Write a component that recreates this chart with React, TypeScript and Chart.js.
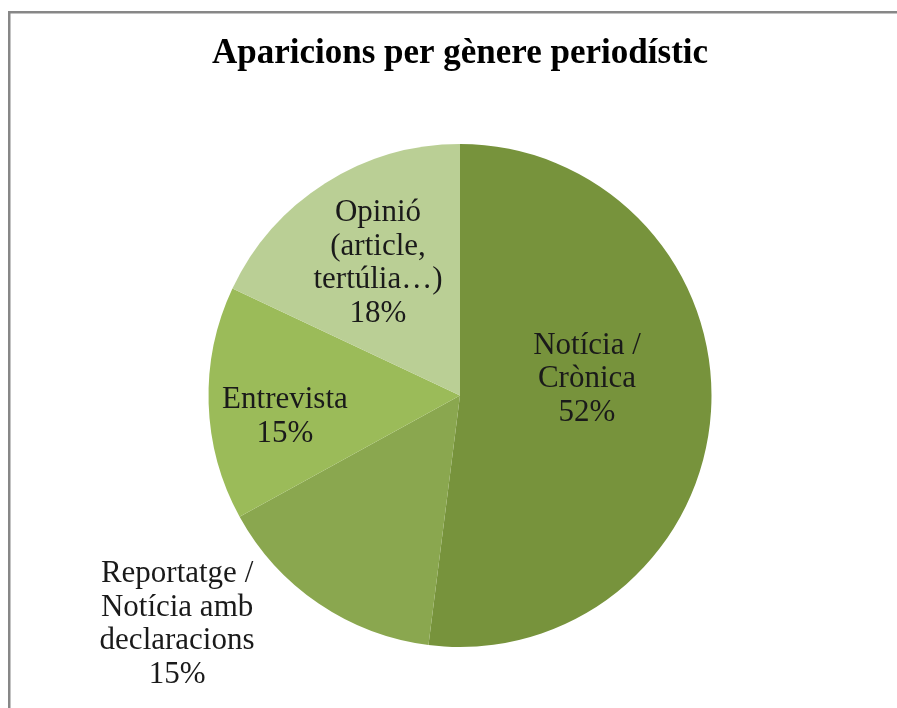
import React, { useEffect, useRef } from "react";
import { Chart, registerables } from "chart.js";

Chart.register(...registerables);

const TITLE = "Aparicions per gènere periodístic";
const CATEGORIES: string[][] = [
  ["Notícia /", "Crònica"],
  ["Reportatge /", "Notícia amb", "declaracions"],
  ["Entrevista"],
  ["Opinió", "(article,", "tertúlia…)"],
];
const VALUES = [52, 15, 15, 18];
const COLORS = ["#77933C", "#8AA74F", "#9BBB59", "#BACF95"];
// label placement relative to pie centre, in units of the radius
const LABEL_OFFSETS: [number, number][] = [
  [0.505, -0.065],
  [-1.125, 0.91],
  [-0.696, 0.085],
  [-0.326, -0.525],
];

const LABEL_FONT = "31px 'Liberation Serif', 'Times New Roman', serif";
const TITLE_FONT = "bold 35px 'Liberation Serif', 'Times New Roman', serif";
const LINE_H = 33.5;

const decorPlugin = {
  id: "decor",
  beforeDraw(chart: any) {
    const ctx = chart.ctx;
    ctx.save();
    ctx.fillStyle = "#ffffff";
    ctx.fillRect(0, 0, chart.width, chart.height);
    ctx.strokeStyle = "#878787";
    ctx.lineWidth = 2.5;
    ctx.strokeRect(9.25, 12.25, chart.width + 20, chart.height + 20);
    ctx.fillStyle = "#000000";
    ctx.font = TITLE_FONT;
    ctx.textAlign = "center";
    ctx.textBaseline = "middle";
    ctx.fillText(TITLE, 460, 54);
    ctx.restore();
  },
  afterDatasetsDraw(chart: any) {
    const ctx = chart.ctx;
    const meta = chart.getDatasetMeta(0);
    const total = VALUES.reduce((a, b) => a + b, 0);
    ctx.save();
    ctx.font = LABEL_FONT;
    ctx.fillStyle = "#1a1a1a";
    ctx.textAlign = "center";
    ctx.textBaseline = "middle";
    meta.data.forEach((arc: any, i: number) => {
      const r = arc.outerRadius;
      const cx = arc.x + LABEL_OFFSETS[i][0] * r;
      const cy = arc.y + LABEL_OFFSETS[i][1] * r;
      const pct = Math.round((VALUES[i] / total) * 100) + "%";
      const lines = [...CATEGORIES[i], pct];
      const startY = cy - ((lines.length - 1) * LINE_H) / 2;
      lines.forEach((ln, k) => ctx.fillText(ln, cx, startY + k * LINE_H));
    });
    ctx.restore();
  },
};

export default function App() {
  const ref = useRef<HTMLCanvasElement>(null);
  useEffect(() => {
    document.body.style.margin = "0";
    const chart = new Chart(ref.current!, {
      type: "pie",
      data: {
        labels: CATEGORIES.map((c) => c.join(" ")),
        datasets: [
          {
            data: VALUES,
            backgroundColor: COLORS,
            borderWidth: 0,
          },
        ],
      },
      options: {
        responsive: false,
        animation: false,
        layout: { padding: { left: 208.5, right: 185.5, top: 144, bottom: 61 } },
        plugins: {
          legend: { display: false },
          title: { display: false },
          tooltip: { enabled: false },
        },
      },
      plugins: [decorPlugin],
    });
    return () => chart.destroy();
  }, []);
  return (
    <div style={{ width: 897, height: 708 }}>
      <canvas ref={ref} width={897} height={708} style={{ display: "block" }} />
    </div>
  );
}
